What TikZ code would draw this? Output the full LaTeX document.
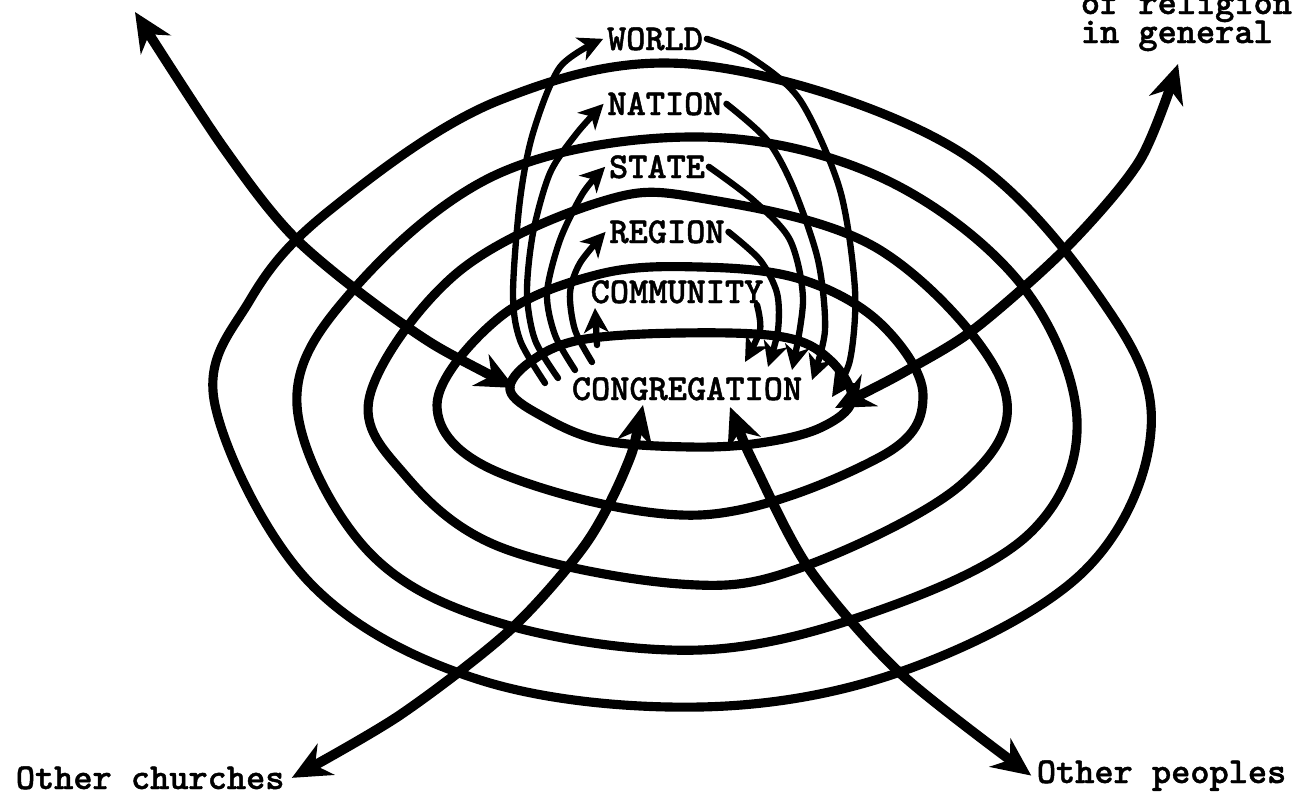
\documentclass[tikz,border=0pt]{standalone}
\usepackage{fontspec}
\usetikzlibrary{arrows.meta}
\newfontfamily\labfam{lmmonolt10-bold.otf}[FakeBold=1.2]
\newcommand\labfont{\labfam\fontsize{20.8}{24}\selectfont}
\begin{document}
\begin{tikzpicture}[x=0.02cm,y=-0.02cm,
  ring/.style={line width=5.2pt, line join=round},
  bigarrow/.style={line width=5.6pt, line cap=round, line join=round,
    arrows={Stealth[length=22pt,width=20pt,inset=7pt]-Stealth[length=22pt,width=20pt,inset=7pt]}},
  arc/.style={line width=3.6pt, line cap=round, line join=round,
    arrows={-Stealth[length=14pt,width=14pt,inset=4pt]}},
  lab/.style={font=\labfont, inner sep=2pt, anchor=base}
]
\useasboundingbox (0,0) rectangle (1300,791);
\fill[white] (0,0) rectangle (1300,791);
\clip (0,0) rectangle (1300,791);

% rings
\draw[ring] plot[smooth cycle, tension=0.6] coordinates {(215,405) (250,300) (330,210) (500,100) (700,65) (957,150) (1113,317) (1150,440) (1080,575) (900,672) (700,707) (480,680) (310,583)};
\draw[ring] plot[smooth cycle, tension=0.6] coordinates {(297,405) (353,290) (500,173) (700,137) (880,177) (1020,283) (1077,420) (1030,533) (880,610) (700,650) (500,623) (367,550)};
\draw[ring] plot[smooth cycle, tension=0.6] coordinates {(370,395) (457,273) (600,202) (700,198) (880,250) (1003,385) (963,483) (800,568) (680,584) (500,547) (405,475)};
\draw[ring] plot[smooth cycle, tension=0.6] coordinates {(437,405) (500,317) (600,274) (700,267) (800,279) (880,323) (923,395) (880,457) (700,515) (500,473)};
\draw[ring] plot[smooth cycle, tension=0.6] coordinates {(510,390) (540,415) (600,440) (690,447) (760,443) (820,428) (852,400) (830,360) (783,337) (680,333) (580,340) (530,362)};

% labels
\node[lab] (world) at (655,50) {WORLD};
\node[lab] (nation) at (665,115) {NATION};
\node[lab] (state) at (657,178) {STATE};
\node[lab] (region) at (667,243) {REGION};
\node[lab] (community) at (677,303) {COMMUNITY};
\node[lab] (cong) at (687,400) {CONGREGATION};
\node[lab, anchor=base west] (relig1) at (1077,14) {of religion};
\node[lab, anchor=base west] (relig2) at (1077,43) {in general};
\node[lab, anchor=base west] (churches) at (12,789) {Other churches};
\node[lab, anchor=base west] (peoples) at (1033,783) {Other peoples};

% free ends
\coordinate (cL) at (515,388);
\coordinate (tl) at (135,12);
\coordinate (cR) at (835,408);
\coordinate (tr) at (1178,64);
\coordinate (cB1) at (643,405);
\coordinate (cB2) at (730,407);
\coordinate (wl0) at (545,383);
\coordinate (wr0) at (832,397);
\coordinate (nl0) at (558,378);
\coordinate (nr0) at (812,380);
\coordinate (sl0) at (575,370);
\coordinate (sr0) at (792,370);
\coordinate (rl0) at (592,362);
\coordinate (rr0) at (768,367);
\coordinate (cl0) at (597,345);
\coordinate (cl1) at (595,308);
\coordinate (cr1) at (757,305);
\coordinate (cr0) at (745,362);

% big arrows
\draw[bigarrow] plot[smooth] coordinates {(cL) (407,327) (297,240) (223,147) (tl)};
\draw[bigarrow] plot[smooth] coordinates {(cR) (913,367) (977,327) (1067,247) (1140,160) (tr)};
\draw[bigarrow] plot[smooth] coordinates {(cB1) (625,470) (585,545) (510,630) (400,715) ([xshift=2pt]churches.east)};
\draw[bigarrow] plot[smooth] coordinates {(cB2) (757,470) (810,570) (900,673) ([xshift=-1pt]peoples.west)};

% thin arcs, left side (up to label)
\draw[arc] plot[smooth] coordinates {(wl0) (520,340) (513,293) (520,200) (533,133) (560,67) (world.west)};
\draw[arc] plot[smooth] coordinates {(nl0) (535,340) (527,293) (533,233) (550,173) (577,133) (nation.west)};
\draw[arc] plot[smooth] coordinates {(sl0) (555,335) (547,293) (560,240) (583,193) (state.west)};
\draw[arc] plot[smooth] coordinates {(rl0) (575,330) (570,293) (580,263) (region.west)};
\draw[arc] (cl0) -- (cl1);
% thin arcs, right side (down to congregation)
\draw[arc] plot[smooth] coordinates {(world.east) (750,57) (800,100) (840,190) (855,290) (850,360) (wr0)};
\draw[arc] plot[smooth] coordinates {(nation.east) (767,140) (793,187) (818,260) (825,330) (nr0)};
\draw[arc] plot[smooth] coordinates {(state.east) (753,200) (790,240) (803,300) (sr0)};
\draw[arc] plot[smooth] coordinates {(region.east) (760,260) (777,293) (778,330) (rr0)};
\draw[arc] plot[smooth] coordinates {(cr1) (760,330) (cr0)};
\end{tikzpicture}
\end{document}
